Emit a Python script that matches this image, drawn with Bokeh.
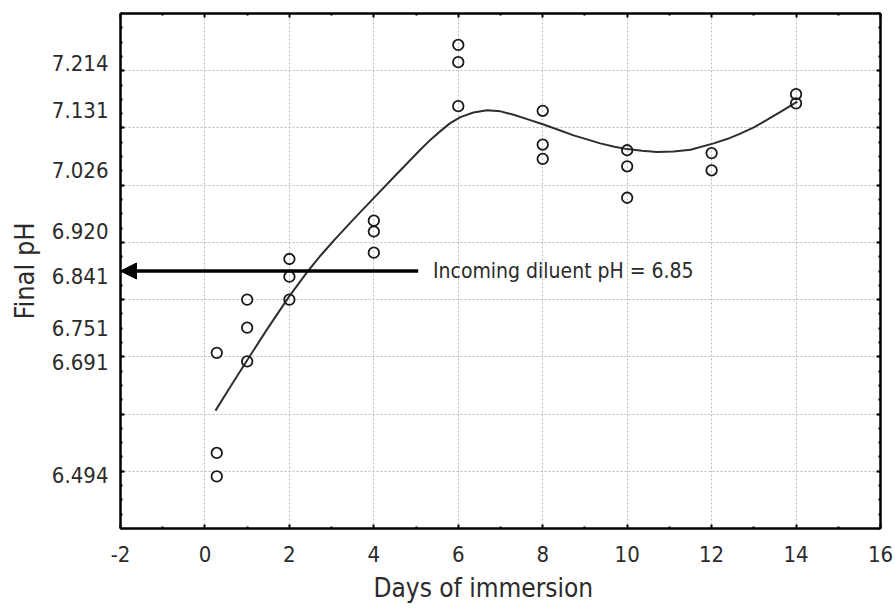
from bokeh.plotting import figure
from bokeh.models import (ColumnDataSource, FixedTicker, LinearAxis, Label,
                          Arrow, NormalHead, Title)
from bokeh.embed import file_html
from bokeh.resources import INLINE

# Measured final pH of the diluent against days of immersion
days = [0.28, 0.28, 0.28, 1, 1, 1, 2, 2, 2, 4, 4, 4, 6, 6, 6,
        8, 8, 8, 10, 10, 10, 12, 12, 14, 14]
final_ph = [6.707, 6.532, 6.491, 6.800, 6.751, 6.692, 6.871, 6.840, 6.800,
            6.938, 6.919, 6.882, 7.245, 7.215, 7.138, 7.130, 7.071, 7.046,
            7.061, 7.033, 6.978, 7.056, 7.026, 7.159, 7.143]

# Smoothed trend through the measurements
fit_days = [0.25, 0.62, 1.0, 1.47, 2.0, 2.42, 2.75, 3.05, 3.5, 4.03, 4.55,
            5.10, 5.35, 5.57, 5.8, 6.05, 6.36, 6.68, 7.0, 7.31, 7.65, 8.02,
            8.4, 8.73, 9.05, 9.36, 9.7, 10.0, 10.35, 10.71, 11.1, 11.5,
            12.05, 12.38, 12.68, 13.0, 13.31, 13.65, 14.03]
fit_ph = [6.606, 6.650, 6.694, 6.748, 6.806, 6.848, 6.878, 6.903, 6.939,
          6.980, 7.020, 7.062, 7.080, 7.094, 7.108, 7.119, 7.127, 7.131,
          7.129, 7.123, 7.115, 7.106, 7.096, 7.087, 7.080, 7.073, 7.067,
          7.063, 7.060, 7.058, 7.059, 7.062, 7.073, 7.081, 7.090, 7.101,
          7.114, 7.129, 7.146]

# Axis ticks
x_ticks = [-2, 0, 2, 4, 6, 8, 10, 12, 14, 16]
x_minor = [-1, 1, 3, 5, 7, 9, 11, 13, 15]
y_grid = [6.5, 6.6, 6.7, 6.8, 6.9, 7.0, 7.1, 7.2]
y_minor = [6.4, 6.425, 6.45, 6.475, 6.5, 6.525, 6.55, 6.575, 6.6, 6.625,
           6.65, 6.675, 6.7, 6.725, 6.75, 6.775, 6.8, 6.825, 6.85, 6.875,
           6.9, 6.925, 6.95, 6.975, 7.0, 7.025, 7.05, 7.075, 7.1, 7.125,
           7.15, 7.175, 7.2, 7.225, 7.25, 7.275, 7.3]
y_labels = [6.494, 6.691, 6.751, 6.841, 6.920, 7.026, 7.131, 7.214]

diluent_ph = 6.85

FONT = "'Liberation Sans Narrow', 'Arial Narrow', 'DejaVu Sans Condensed', sans-serif"
INK = "#2b2b2b"

p = figure(width=895, height=609, x_range=(-2, 16), y_range=(6.4, 7.3),
           output_backend="svg", toolbar_location=None,
           min_border_left=120, min_border_right=15,
           min_border_top=13, min_border_bottom=81,
           background_fill_color="white", border_fill_color="white")
p.outline_line_color = None

# Grid
p.xgrid.ticker = FixedTicker(ticks=x_ticks)
p.ygrid.ticker = FixedTicker(ticks=y_grid)
for g in (p.xgrid[0], p.ygrid[0]):
    g.grid_line_color = "#bdbdbd"
    g.grid_line_dash = "2 2"
    g.grid_line_width = 1


def frame_axis(ax, ticks, minor):
    ax.ticker = FixedTicker(ticks=ticks, minor_ticks=minor)
    ax.axis_line_color = "black"
    ax.axis_line_width = 2.5
    ax.major_tick_line_color = "black"
    ax.major_tick_line_width = 2
    ax.major_tick_in = 4
    ax.major_tick_out = 0
    ax.minor_tick_line_color = "black"
    ax.minor_tick_line_width = 2
    ax.minor_tick_in = 2
    ax.minor_tick_out = 0


def hide_labels(ax):
    ax.major_label_text_font_size = "1px"
    ax.major_label_text_color = None
    ax.major_label_standoff = 0


# Bottom axis with day labels
xa = p.xaxis[0]
frame_axis(xa, x_ticks, x_minor)
xa.major_label_text_font = FONT
xa.major_label_text_font_size = "22px"
xa.major_label_text_color = INK
xa.major_label_standoff = 17
xa.major_label_overrides = {t: str(t) for t in x_ticks}

# Left axis: ticks only
ya = p.yaxis[0]
frame_axis(ya, y_grid, y_minor)
hide_labels(ya)

# Left labels at the measured pH levels, with the axis title
ylab = LinearAxis(ticker=FixedTicker(ticks=y_labels, minor_ticks=[]),
                  axis_line_color=None, major_tick_line_color=None,
                  minor_tick_line_color=None,
                  major_label_text_font=FONT,
                  major_label_text_font_size="22px",
                  major_label_text_color=INK,
                  major_label_standoff=6,
                  axis_label="Final pH",
                  axis_label_text_font=FONT,
                  axis_label_text_font_size="27px",
                  axis_label_text_font_style="normal",
                  axis_label_text_color=INK,
                  axis_label_standoff=9)
ylab.major_label_overrides = {v: f"{v:.3f}" for v in y_labels}
p.add_layout(ylab, "left")

# Top and right frame axes
top = LinearAxis()
frame_axis(top, x_ticks, x_minor)
hide_labels(top)
p.add_layout(top, "above")
right = LinearAxis()
frame_axis(right, y_grid, y_minor)
hide_labels(right)
p.add_layout(right, "right")

# X axis title
p.add_layout(Title(text="Days of immersion", align="left", offset=253,
                   text_font=FONT, text_font_size="26px",
                   text_font_style="normal", text_color=INK, standoff=13),
             "below")

# Trend curve and measurements
p.line(fit_days, fit_ph, line_color="#2e2e2e", line_width=2)
src = ColumnDataSource(dict(day=days, ph=final_ph))
p.scatter("day", "ph", source=src, marker="circle", size=10.5,
          fill_color=None, line_color="#1a1a1a", line_width=1.8)

# Incoming diluent reference
p.add_layout(Arrow(end=NormalHead(size=16, fill_color="black",
                                  line_color="black", line_width=1),
                   x_start=5.05, y_start=diluent_ph, x_end=-2, y_end=diluent_ph,
                   line_color="black", line_width=3.5))
p.add_layout(Label(x=5.4, y=diluent_ph,
                   text=f"Incoming diluent pH = {diluent_ph:.2f}",
                   text_font=FONT, text_font_size="21px", text_color=INK,
                   text_baseline="middle", text_align="left"))

open("out.html", "w").write(file_html(p, INLINE))
